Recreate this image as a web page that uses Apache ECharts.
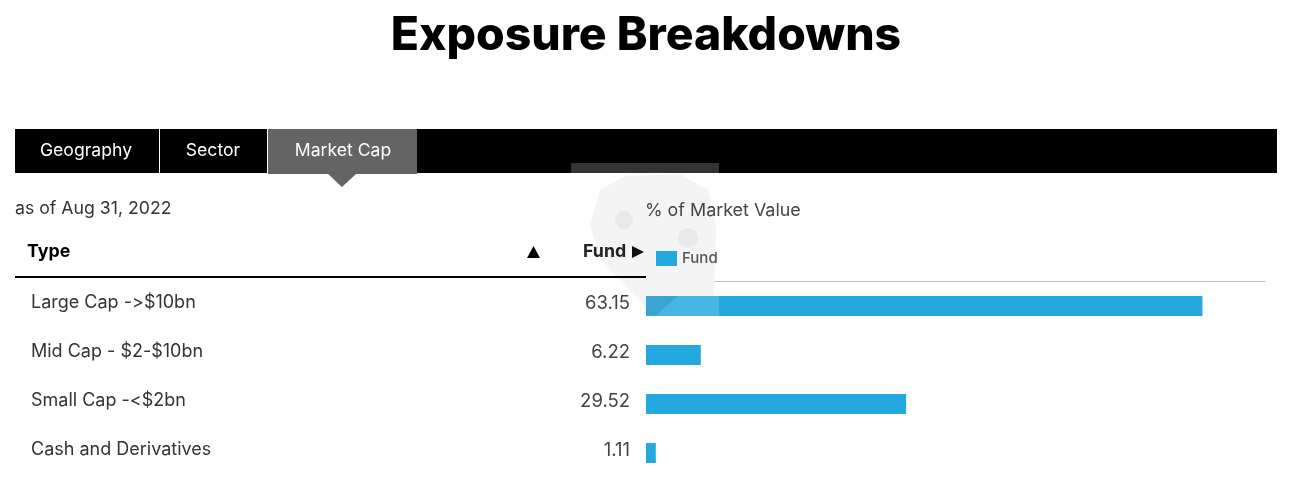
<!DOCTYPE html>
<html><head><meta charset="utf-8">
<style>html,body{margin:0;padding:0;background:#fff}#c{width:1290px;height:482px}</style>
<script src="https://cdn.jsdelivr.net/npm/echarts@6/dist/echarts.min.js"></script>
</head><body><div id="c"></div>
<script>
const categories = ["Large Cap ->$10bn","Mid Cap - $2-$10bn","Small Cap -<$2bn","Cash and Derivatives"];
const fundValues = [63.15,6.22,29.52,1.11];
const tabs = ["Geography","Sector","Market Cap"];
const FONT = 'Inter,"Open Sans",sans-serif';
const chart = echarts.init(document.getElementById('c'),null,{renderer:'canvas'});
function t(x,y,text,size,color,weight,align,family){
  return {type:'text',x:x,y:y,z:10,style:{text:text,fontSize:size,fill:color,fontWeight:weight||'normal',align:align||'left',verticalAlign:'middle',fontFamily:family||FONT}};
}
function r(x,y,w,h,fill,z,op){
  return {type:'rect',x:x,y:y,z:z||5,shape:{width:w,height:h},style:{fill:fill,opacity:op==null?1:op}};
}
const graphics = [
  r(15,129,1262,44,'#000'),
  r(159,129,1,44,'#fff',6),
  r(267,129,1,44,'#fff',6),
  r(268,129,149,45,'#646464',6),
  {type:'polygon',z:6,shape:{points:[[328,174],[356,174],[342,187]]},style:{fill:'#646464'}},
  t(86,150.5,tabs[0],17.6,'#fff','normal','center'),
  t(213,150.5,tabs[1],17.6,'#fff','normal','center'),
  t(343,150.5,tabs[2],17.6,'#fff','normal','center'),
  t(15,208.5,'as of Aug 31, 2022',17.7,'#333'),
  t(27,252,'Type',17.8,'#000','bold'),
  t(583,252,'Fund',17.8,'#222','bold'),
  {type:'polygon',z:10,shape:{points:[[527,258],[540,258],[533.5,246]]},style:{fill:'#000'}},
  {type:'polygon',z:10,shape:{points:[[632,246],[644,252],[632,258]]},style:{fill:'#111'}},
  r(15,276,631,2,'#000',6),
  /* watermark */
  {type:'polygon',z:1,shape:{points:[[600,190],[625,176],[680,174],[708,190],[716,225],[714,296],[690,316],[650,316],[640,300],[600,260],[590,225]]},style:{fill:'#f4f4f4'}},
  {type:'circle',z:1,shape:{cx:624,cy:220,r:9},style:{fill:'#e8e8e8'}},
  {type:'circle',z:1,shape:{cx:688,cy:238,r:10},style:{fill:'#e8e8e8'}},
  r(571,163,148,10,'#fff',20,0.2),
  r(646,296,73,20,'#fff',20,0.16),
  {type:'polygon',z:20,shape:{points:[[646,296],[678,296],[655,316],[646,316]]},style:{fill:'#1b6f9a',opacity:0.25}}
];
chart.setOption({
  animation:false,
  backgroundColor:'#fff',
  title:[
    {text:'Exposure Breakdowns',left:641,top:8,textAlign:'center',textStyle:{fontFamily:FONT,fontSize:46.3,fontWeight:800,color:'#000'}},
    {text:'% of Market Value',left:640,top:197,textStyle:{fontFamily:FONT,fontSize:17.9,fontWeight:'normal',color:'#444'}}
  ],
  legend:{left:651,top:246,itemWidth:21,itemHeight:15,itemGap:7,icon:'rect',data:['Fund'],textStyle:{fontFamily:FONT,fontSize:15,color:'#555',fontWeight:500}},
  grid:{left:646,top:281.5,width:619,height:196,containLabel:false},
  xAxis:{type:'value',position:'top',min:0,max:70.25,splitLine:{show:false},axisTick:{show:false},axisLabel:{show:false},axisLine:{show:true,lineStyle:{color:'#bdbdbd',width:1}}},
  yAxis:{type:'category',inverse:true,data:categories,axisLine:{show:false},axisTick:{show:false},
    axisLabel:{align:'left',margin:615,formatter:v=>'{a|'+v+'}',rich:{a:{padding:[0,0,6,0],fontFamily:FONT,fontSize:18,color:'#333'}}}},
  series:[{name:'Fund',type:'bar',data:fundValues,barWidth:20,z:3,itemStyle:{color:'#23a8e0'},
    label:{show:true,position:'left',distance:16,offset:[0,-3],fontFamily:FONT,fontSize:18.5,color:'#444',formatter:p=>p.value.toFixed(2)}}],
  graphic:{elements:graphics}
});
/* Inter would otherwise merge "->" into an arrow glyph */
document.querySelectorAll('#c canvas').forEach(c=>{c.getContext('2d').textRendering='optimizeSpeed';});
chart.getZr().painter.refresh(true);
</script></body></html>
